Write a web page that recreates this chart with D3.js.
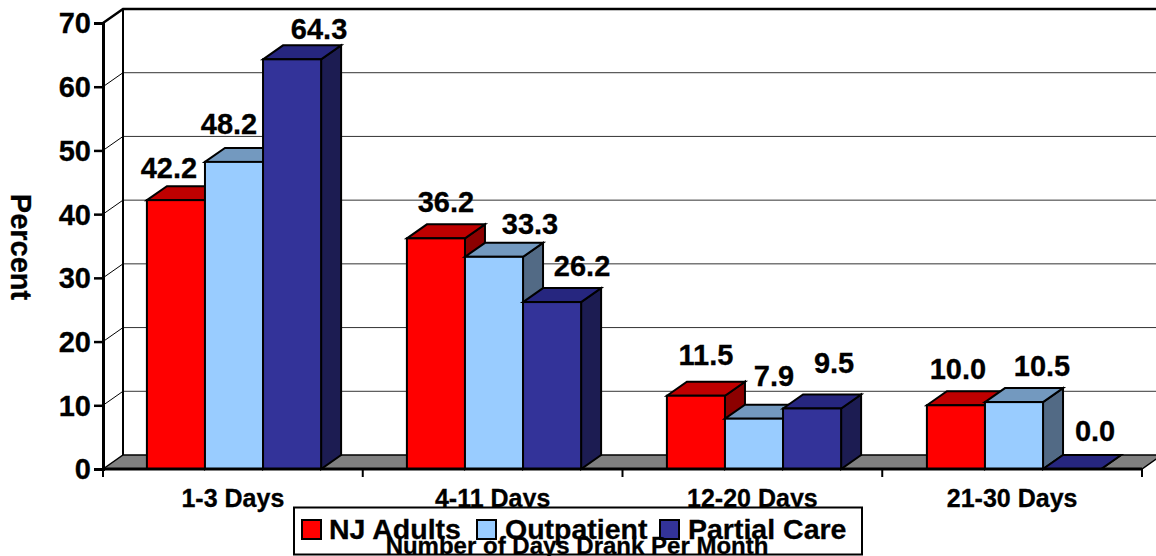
<!DOCTYPE html>
<html>
<head>
<meta charset="utf-8">
<script src="https://cdn.jsdelivr.net/npm/d3@7"></script>
<style>
  html, body { margin: 0; background: #fff; }
  svg { display: block; }
  text { font-family: "Liberation Sans", Arial, sans-serif; font-weight: bold; fill: #000; stroke: #000; stroke-width: 0.3px; }
</style>
</head>
<body>
<script>
var WIDTH = 1156;
var HEIGHT = 556;

var categories = ["1-3 Days", "4-11 Days", "12-20 Days", "21-30 Days"];
var seriesNames = ["NJ Adults", "Outpatient", "Partial Care"];
var njAdults = [42.2, 36.2, 11.5, 10.0];
var outpatient = [48.2, 33.3, 7.9, 10.5];
var partialCare = [64.3, 26.2, 9.5, 0.0];
var yTicks = [0, 10, 20, 30, 40, 50, 60, 70];

var seriesValues = [njAdults, outpatient, partialCare];
var frontColors = ["#ff0000", "#99ccff", "#333399"];
var topColors = ["#bf0000", "#7399bf", "#26267f"];
var sideColors = ["#8c0000", "#526a85", "#1c1c52"];

// the value labels were dragged by hand in the original, so each has its own nudge
var labelDx = [[-7, -5, 27], [10, 36, 30], [10, 20, 22], [2, 28, 23]];
var labelDy = [[22, 28, 20], [26, 23, 26], [31, 33, 35], [26, 26, 28]];

var DEPTH_X = 20;
var DEPTH_Y = 14;

var svg = d3.select("body")
  .append("svg")
  .attr("width", WIDTH)
  .attr("height", HEIGHT);

// axis runs 103..1142, the bar groups are about a pixel to the right of that
var x0 = 103;
var x1 = 1142;

var x = d3.scaleBand()
  .domain(categories)
  .range([x0 + 1, x1 + 2])
  .paddingInner(0.33)
  .paddingOuter(0.165);

var xSeries = d3.scaleBand()
  .domain(d3.range(seriesNames.length))
  .range([0, x.bandwidth()]);

var y = d3.scaleLinear()
  .domain([0, 70])
  .range([469, 23]);

// back wall and side wall
svg.selectAll("line.grid")
  .data(yTicks.slice(1, -1))
  .enter()
  .append("line")
  .attr("class", "grid")
  .attr("x1", x0 + DEPTH_X)
  .attr("x2", x1 + DEPTH_X)
  .attr("y1", function (d) { return y(d) - DEPTH_Y; })
  .attr("y2", function (d) { return y(d) - DEPTH_Y; })
  .attr("stroke", "#333")
  .attr("stroke-width", 1);

svg.selectAll("line.wallTick")
  .data(yTicks.slice(1, -1))
  .enter()
  .append("line")
  .attr("class", "wallTick")
  .attr("x1", x0)
  .attr("x2", x0 + DEPTH_X)
  .attr("y1", function (d) { return y(d); })
  .attr("y2", function (d) { return y(d) - DEPTH_Y; })
  .attr("stroke", "#000")
  .attr("stroke-width", 1);

// top edge of the box
svg.append("path")
  .attr("d", d3.line()([
    [x0, y(70)],
    [x0 + DEPTH_X, y(70) - DEPTH_Y],
    [x1 + DEPTH_X, y(70) - DEPTH_Y]
  ]))
  .attr("fill", "none")
  .attr("stroke", "#000")
  .attr("stroke-width", 2.5);

svg.append("line")
  .attr("x1", x0 + DEPTH_X)
  .attr("x2", x0 + DEPTH_X)
  .attr("y1", y(70) - DEPTH_Y)
  .attr("y2", y(0) - DEPTH_Y)
  .attr("stroke", "#000")
  .attr("stroke-width", 2);

// floor
svg.append("path")
  .attr("d", d3.line()([
    [x0, y(0)],
    [x0 + DEPTH_X, y(0) - DEPTH_Y],
    [x1 + DEPTH_X, y(0) - DEPTH_Y],
    [x1, y(0)]
  ]) + "Z")
  .attr("fill", "#808080")
  .attr("stroke", "#000")
  .attr("stroke-width", 1.5);

// bars, drawn group by group and left to right so later bars sit over earlier ones
categories.forEach(function (cat, c) {
  seriesValues.forEach(function (values, s) {
    var left = x(cat) + xSeries(s);
    var right = left + xSeries.bandwidth();
    var top = y(values[c]);
    var bottom = y(0);
    var g = svg.append("g").attr("class", "bar");

    g.append("path")
      .attr("d", d3.line()([
        [right, top],
        [right + DEPTH_X, top - DEPTH_Y],
        [right + DEPTH_X, bottom - DEPTH_Y],
        [right, bottom]
      ]) + "Z")
      .attr("fill", sideColors[s]);

    g.append("path")
      .attr("d", d3.line()([
        [left, top],
        [left + DEPTH_X, top - DEPTH_Y],
        [right + DEPTH_X, top - DEPTH_Y],
        [right, top]
      ]) + "Z")
      .attr("fill", topColors[s]);

    g.append("rect")
      .attr("x", left)
      .attr("y", top)
      .attr("width", xSeries.bandwidth())
      .attr("height", bottom - top)
      .attr("fill", frontColors[s]);

    g.selectAll("path, rect")
      .attr("stroke", "#000")
      .attr("stroke-width", 2)
      .attr("stroke-linejoin", "miter");
  });
});

// value labels go on after all the bars
categories.forEach(function (cat, c) {
  seriesValues.forEach(function (values, s) {
    svg.append("text")
      .attr("class", "value")
      .attr("x", x(cat) + xSeries(s) + xSeries.bandwidth() / 2 + labelDx[c][s])
      .attr("y", y(values[c]) - labelDy[c][s])
      .attr("text-anchor", "middle")
      .attr("font-size", 29)
      .text(values[c].toFixed(1));
  });
});

// y axis
var yAxis = svg.append("g")
  .attr("transform", "translate(" + x0 + ",0)")
  .call(d3.axisLeft(y).tickValues(yTicks).tickSize(9).tickPadding(3));

yAxis.selectAll("path").attr("stroke", "#000").attr("stroke-width", 3);
yAxis.selectAll("line").attr("stroke", "#000").attr("stroke-width", 2.5);
yAxis.selectAll("text")
  .attr("font-size", 29)
  .attr("font-family", "Liberation Sans")
  .attr("dy", "0.34em");

// x axis: ticks sit between the groups, so it gets its own boundary scale
var xEdges = d3.scalePoint()
  .domain(d3.range(categories.length + 1))
  .range([x0, x1]);

svg.append("line")
  .attr("x1", x0)
  .attr("x2", x1)
  .attr("y1", y(0))
  .attr("y2", y(0))
  .attr("stroke", "#000")
  .attr("stroke-width", 3);

svg.selectAll("line.xTick")
  .data(xEdges.domain())
  .enter()
  .append("line")
  .attr("class", "xTick")
  .attr("x1", function (d) { return xEdges(d); })
  .attr("x2", function (d) { return xEdges(d); })
  .attr("y1", y(0))
  .attr("y2", y(0) + 8)
  .attr("stroke", "#000")
  .attr("stroke-width", 2);

svg.selectAll("text.cat")
  .data(categories)
  .enter()
  .append("text")
  .attr("class", "cat")
  .attr("x", function (d, i) { return (xEdges(i) + xEdges(i + 1)) / 2; })
  .attr("y", 507)
  .attr("text-anchor", "middle")
  .attr("font-size", 25)
  .text(function (d) { return d; });

svg.append("text")
  .attr("transform", "translate(11,247) rotate(90)")
  .attr("text-anchor", "middle")
  .attr("font-size", 29)
  .text("Percent");

// legend box covers the bottom of the category labels, as in the original
svg.append("rect")
  .attr("x", 294)
  .attr("y", 507.5)
  .attr("width", 568)
  .attr("height", 47)
  .attr("fill", "#fff")
  .attr("stroke", "#000")
  .attr("stroke-width", 2);

var legendSwatchX = [302, 477, 660];
var legendTextX = [329, 505, 688];

seriesNames.forEach(function (name, i) {
  svg.append("rect")
    .attr("x", legendSwatchX[i])
    .attr("y", 520)
    .attr("width", 19)
    .attr("height", 19)
    .attr("fill", frontColors[i])
    .attr("stroke", "#000")
    .attr("stroke-width", 2);

  svg.append("text")
    .attr("x", legendTextX[i])
    .attr("y", 539)
    .attr("font-size", 28.5)
    .text(name);
});

svg.append("text")
  .attr("x", 577)
  .attr("y", 554)
  .attr("text-anchor", "middle")
  .attr("font-size", 24)
  .text("Number of Days Drank Per Month");
</script>
</body>
</html>
